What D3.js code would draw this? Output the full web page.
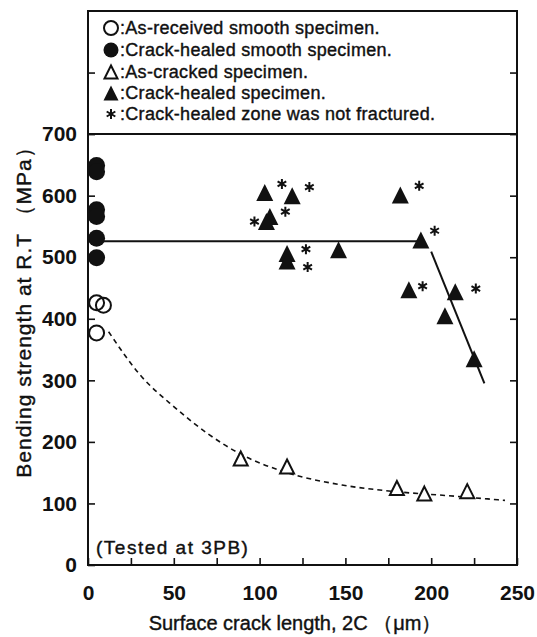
<!DOCTYPE html>
<html>
<head>
<meta charset="utf-8">
<script src="https://cdn.jsdelivr.net/npm/d3@7"></script>
<style>
body { margin: 0; background: #fff; }
</style>
</head>
<body>
<svg width="537" height="637"></svg>
<script>
const width = 537
const height = 637
const marginLeft = 88
const marginRight = 20
const marginTop = 11
const marginBottom = 72
const font = "'Liberation Sans', Arial, sans-serif"

// O : as-received smooth specimen
const asReceivedX = [5, 9, 5]
const asReceivedY = [426, 422, 377]
// filled circle : crack-healed smooth specimen
const healedSmoothX = [5, 5, 5, 5, 5, 5]
const healedSmoothY = [649, 639, 577, 566, 531, 499]
// open triangle : as-cracked specimen
const asCrackedX = [89, 116, 180, 196, 221]
const asCrackedY = [173, 160, 125, 116, 120]
// filled triangle : crack-healed specimen
const healedX = [103, 119, 106, 104, 116, 116, 146, 182, 194, 187, 214, 208, 225]
const healedY = [605, 600, 566, 558, 506, 494, 512, 601, 528, 447, 444, 405, 335]
// * : crack-healed zone was not fractured
const notFracturedX = [113, 129, 115, 97, 127, 128, 193, 202, 195, 226]
const notFracturedY = [619, 614, 574, 558, 513, 484, 616, 543, 453, 449]
// fitted lines
const plateauX = [5, 194]
const plateauY = [526, 526]
const dropX = [200, 231]
const dropY = [509, 295]
const fitX = [12, 30, 51, 70, 89, 116, 148, 180, 208, 243]
const fitY = [379, 310, 255, 213, 180, 150, 130, 119, 113, 105]

const xTicks = [0, 25, 50, 75, 100, 125, 150, 175, 200, 225, 250]
const yTicks = [0, 100, 200, 300, 400, 500, 600, 700, 800]
const legendLabels = [
    "As-received smooth specimen.",
    "Crack-healed smooth specimen.",
    "As-cracked specimen.",
    "Crack-healed specimen.",
    "Crack-healed zone was not fractured."
]

const zip = (xs, ys) => xs.map((x, i) => ({x: x, y: ys[i]}))

const xScale = d3.scaleLinear()
    .domain([0, 250])
    .range([marginLeft, width - marginRight])

const yScale = d3.scaleLinear()
    .domain([0, 900])
    .range([height - marginBottom, marginTop])

const svg = d3.select("svg")

const triangle = (s) => `M0,${-s / 2}L${s / 2},${s / 2}L${-s / 2},${s / 2}Z`
const asterisk = (r) => {
    let p = ""
    for (let a = 0; a < 180; a += 60) {
        const dx = r * Math.sin(a * Math.PI / 180)
        const dy = r * Math.cos(a * Math.PI / 180)
        p += `M${-dx},${-dy}L${dx},${dy}`
    }
    return p
}

// frame + 700 separator
svg.append("rect")
    .attr("x", xScale(0))
    .attr("y", yScale(900))
    .attr("width", xScale(250) - xScale(0))
    .attr("height", yScale(0) - yScale(900))
    .attr("fill", "none")
    .attr("stroke", "#111")
    .attr("stroke-width", 2)

svg.append("line")
    .attr("x1", xScale(0))
    .attr("x2", xScale(250))
    .attr("y1", yScale(700))
    .attr("y2", yScale(700))
    .attr("stroke", "#111")
    .attr("stroke-width", 2)

// axes
const yAxis = d3.axisLeft(yScale)
    .tickValues(yTicks)
    .tickSize(-7)
    .tickPadding(11)
    .tickFormat(d => d <= 700 ? d : "")

const yAxisRight = d3.axisRight(yScale)
    .tickValues(yTicks.slice(1))
    .tickSize(-7)
    .tickFormat("")

const xAxis = d3.axisBottom(xScale)
    .tickValues(xTicks)
    .tickSize(-7)
    .tickPadding(20)
    .tickFormat(d => d % 50 === 0 ? d : "")

const styleAxis = g => {
    g.select(".domain").remove()
    g.selectAll("line").attr("stroke", "#111").attr("stroke-width", 1.6)
    g.selectAll("text").attr("fill", "#111")
    g.style("font", `bold 21px ${font}`)
}

svg.append("g")
    .attr("transform", `translate(${xScale(0)},0)`)
    .call(yAxis)
    .call(styleAxis)

svg.append("g")
    .attr("transform", `translate(${xScale(250)},0)`)
    .call(yAxisRight)
    .call(styleAxis)

svg.append("g")
    .attr("transform", `translate(0,${yScale(0)})`)
    .call(xAxis)
    .call(styleAxis)

// axis titles
svg.append("text")
    .attr("x", 295)
    .attr("y", 630)
    .attr("text-anchor", "middle")
    .style("font", `20px ${font}`)
    .attr("fill", "#111")
    .attr("stroke", "#111")
    .attr("stroke-width", 0.4)
    .text("Surface crack length, 2C （μm）")

svg.append("text")
    .attr("transform", "translate(31,307) rotate(-90)")
    .attr("text-anchor", "middle")
    .style("font", `21px ${font}`)
    .style("letter-spacing", "1px")
    .attr("fill", "#111")
    .attr("stroke", "#111")
    .attr("stroke-width", 0.4)
    .text("Bending strength at R.T （MPa）")

svg.append("text")
    .attr("x", 96)
    .attr("y", 554)
    .style("font", `19px ${font}`)
    .style("letter-spacing", "1.5px")
    .attr("fill", "#111")
    .attr("stroke", "#111")
    .attr("stroke-width", 0.4)
    .text("(Tested at 3PB)")

// fitted lines
const line = d3.line().x(d => xScale(d.x)).y(d => yScale(d.y))

svg.append("path")
    .datum(zip(fitX, fitY))
    .attr("d", line.curve(d3.curveMonotoneX))
    .attr("fill", "none")
    .attr("stroke", "#111")
    .attr("stroke-width", 1.6)
    .attr("stroke-dasharray", "5,4")

const straight = d3.line().x(d => xScale(d.x)).y(d => yScale(d.y))

svg.append("path")
    .datum(zip(plateauX, plateauY))
    .attr("d", straight)
    .attr("stroke", "#111")
    .attr("stroke-width", 2)

svg.append("path")
    .datum(zip(dropX, dropY))
    .attr("d", straight)
    .attr("stroke", "#111")
    .attr("stroke-width", 2)

// markers
svg.append("g").selectAll("circle")
    .data(zip(healedSmoothX, healedSmoothY))
    .enter()
    .append("circle")
    .attr("cx", d => xScale(d.x))
    .attr("cy", d => yScale(d.y))
    .attr("r", 8.5)
    .attr("fill", "#111")

svg.append("g").selectAll("circle")
    .data(zip(asReceivedX, asReceivedY))
    .enter()
    .append("circle")
    .attr("cx", d => xScale(d.x))
    .attr("cy", d => yScale(d.y))
    .attr("r", 7.5)
    .attr("fill", "none")
    .attr("stroke", "#111")
    .attr("stroke-width", 2)

svg.append("g").selectAll("path")
    .data(zip(asCrackedX, asCrackedY))
    .enter()
    .append("path")
    .attr("transform", d => `translate(${xScale(d.x)},${yScale(d.y)})`)
    .attr("d", triangle(14))
    .attr("fill", "#fff")
    .attr("stroke", "#111")
    .attr("stroke-width", 2)

svg.append("g").selectAll("path")
    .data(zip(healedX, healedY))
    .enter()
    .append("path")
    .attr("transform", d => `translate(${xScale(d.x)},${yScale(d.y)})`)
    .attr("d", triangle(17))
    .attr("fill", "#111")

svg.append("g").selectAll("path")
    .data(zip(notFracturedX, notFracturedY))
    .enter()
    .append("path")
    .attr("transform", d => `translate(${xScale(d.x)},${yScale(d.y)})`)
    .attr("d", asterisk(5))
    .attr("stroke", "#111")
    .attr("stroke-width", 2)

// legend
const legend = svg.append("g").attr("id", "legend")
const legendY = [28, 50, 72, 93, 114]
const legendX = 111

legend.append("circle").attr("cx", legendX).attr("cy", legendY[0]).attr("r", 7)
    .attr("fill", "none").attr("stroke", "#111").attr("stroke-width", 2)
legend.append("circle").attr("cx", legendX).attr("cy", legendY[1]).attr("r", 7.5)
    .attr("fill", "#111")
legend.append("path").attr("transform", `translate(${legendX},${legendY[2]})`)
    .attr("d", triangle(13)).attr("fill", "none").attr("stroke", "#111").attr("stroke-width", 2)
legend.append("path").attr("transform", `translate(${legendX},${legendY[3]})`)
    .attr("d", triangle(15)).attr("fill", "#111")
legend.append("path").attr("transform", `translate(${legendX},${legendY[4]})`)
    .attr("d", asterisk(5)).attr("stroke", "#111").attr("stroke-width", 2)

legend.selectAll("text")
    .data(legendLabels)
    .enter()
    .append("text")
    .attr("x", legendX + 9)
    .attr("y", (d, i) => legendY[i] + 6)
    .style("font", `18px ${font}`)
    .style("letter-spacing", "0.3px")
    .attr("fill", "#111")
    .attr("stroke", "#111")
    .attr("stroke-width", 0.4)
    .text(d => ":" + d)
</script>
</body>
</html>
